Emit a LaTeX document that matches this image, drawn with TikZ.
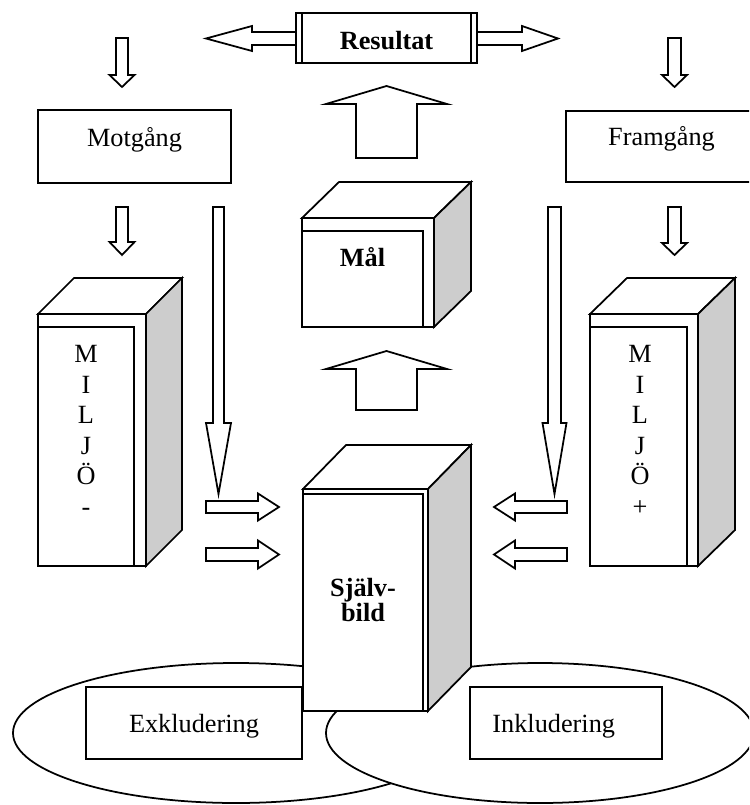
\documentclass[tikz,border=0pt]{standalone}
\usepackage{fontspec}
\setmainfont{Liberation Serif}
\definecolor{sideshade}{RGB}{205,205,205}
\tikzset{
  outline/.style={draw=black, line width=0.8pt, line join=miter},
  plate/.style={outline, fill=white},
  shade/.style={outline, fill=sideshade},
  txt/.style={font=\fontsize{12}{13.8}\selectfont, inner sep=0pt},
  boldtxt/.style={font=\fontsize{12}{13.8}\selectfont\bfseries, inner sep=0pt},
}
% block with a 3D look: left, top, right, bottom of the front face,
% depth dx, depth dy (upwards), right and top of the inner panel
\newcommand{\cubebox}[8]{%
  \draw[plate] (#1,#2) -- (#1+#5,#2-#6) -- (#3+#5,#2-#6) -- (#3,#2) -- cycle;
  \draw[shade] (#3,#2) -- (#3+#5,#2-#6) -- (#3+#5,#4-#6) -- (#3,#4) -- cycle;
  \draw[plate] (#1,#2) rectangle (#3,#4);
  \draw[outline] (#1,#4) -- (#1,#8) -- (#7,#8) -- (#7,#4);
}
% vertical hollow arrow: centre x, tail y, head base y, tip y, half shaft, half head
\newcommand{\vblockarrow}[6]{%
  \draw[plate] (#1-#5,#2) -- (#1+#5,#2) -- (#1+#5,#3) -- (#1+#6,#3) -- (#1,#4)
    -- (#1-#6,#3) -- (#1-#5,#3) -- cycle;
}
% horizontal hollow arrow: centre y, tail x, head base x, tip x, half shaft, half head
\newcommand{\hblockarrow}[6]{%
  \draw[plate] (#2,#1-#5) -- (#3,#1-#5) -- (#3,#1-#6) -- (#4,#1) -- (#3,#1+#6)
    -- (#3,#1+#5) -- (#2,#1+#5) -- cycle;
}
\begin{document}
\begin{tikzpicture}[x=0.4566pt, y=-0.4566pt]
\useasboundingbox (0,0) rectangle (749,805);
\clip (0,0) rectangle (749,805);

% --- Resultat with its two-way arrow
\hblockarrow{38.5}{296}{252}{206}{6.5}{12.5}
\hblockarrow{38.5}{477}{522}{558}{6.5}{12.5}
\draw[plate] (296,13) rectangle (477,63);
\draw[outline] (302,13) -- (302,63) (471,13) -- (471,63);
\node[boldtxt, anchor=base] (resultat) at (386.5,50) {Resultat};

% --- Motgång / Framgång
\vblockarrow{122}{38}{75}{87}{6}{12.5}
\vblockarrow{674.5}{38}{75}{87}{6.5}{12.5}
\draw[plate] (38,110) rectangle (231,183);
\node[txt, anchor=base] (motgang) at (134.5,147) {Motgång};
\draw[plate] (566,111) rectangle (760,182);
\node[txt, anchor=base] (framgang) at (661.5,146) {Framgång};
\vblockarrow{122}{207}{242}{255}{6}{12.5}
\vblockarrow{674.5}{207}{243}{255}{6.5}{12.5}

% --- long arrows down to the self image
\vblockarrow{218.5}{207}{423}{494}{5.5}{12.5}
\vblockarrow{554.5}{207}{423}{494}{6.5}{12}

% --- Mål and the upward arrows
\vblockarrow{386.5}{158}{104}{86}{30.5}{60.5}
\cubebox{302}{218}{434}{327}{37}{36}{423}{231}
\node[boldtxt, anchor=base] (mal) at (362.5,267) {Mål};
\vblockarrow{386.5}{410}{369}{351}{30.5}{60.5}

% --- environment blocks
\cubebox{38}{314}{146}{566}{36}{36}{134}{327}
\node[txt, align=center, anchor=north, font=\fontsize{12}{13.93}\selectfont] (miljominus) at (86,345) {M\\I\\L\\J\\Ö\\-};
\cubebox{590}{314}{698}{566}{37}{36}{687}{327}
\node[txt, align=center, anchor=north, font=\fontsize{12}{13.93}\selectfont] (miljoplus) at (640,345) {M\\I\\L\\J\\Ö\\+};

% --- short arrows towards the self image
\hblockarrow{507}{206}{258}{279}{6}{13.5}
\hblockarrow{554.5}{206}{258}{279}{6.5}{14}
\hblockarrow{507}{567}{515}{494}{6}{13.5}
\hblockarrow{554.5}{567}{515}{494}{6.5}{14}

% --- exclusion / inclusion
\draw[plate] (236,733) ellipse [x radius=223, y radius=70];
\draw[plate] (540,733) ellipse [x radius=214, y radius=70];
\draw[plate] (86,687) rectangle (302,759);
\node[txt, anchor=base] (exkl) at (194,732) {Exkludering};
\draw[plate] (470,687) rectangle (662,759);
\node[txt, anchor=base west] (inkl) at (492,732) {Inkludering};

% --- self image
\cubebox{303}{489}{428}{711}{43}{44}{423}{494}
\node[boldtxt, align=center, font=\fontsize{12}{11.4}\selectfont\bfseries] (sjalvbild) at (363,600) {Själv-\\bild};
\end{tikzpicture}
\end{document}
